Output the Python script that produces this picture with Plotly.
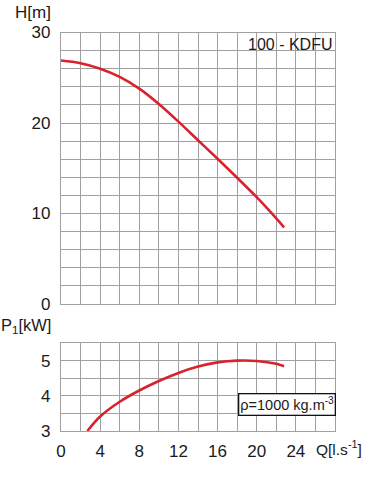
import plotly.graph_objects as go

# ---- data ----
q_h = [0, 2, 4, 6, 8, 10, 12, 14, 16, 18, 20, 22, 22.8]
h_vals = [26.9, 26.6, 26.0, 25.1, 23.8, 22.1, 20.15, 18.1, 16.05, 13.95, 11.8, 9.45, 8.45]
q_p = [2.7, 4, 6, 8, 10, 12, 14, 16, 18, 20, 22, 22.8]
p_vals = [3.0, 3.41, 3.83, 4.15, 4.42, 4.65, 4.83, 4.95, 5.0, 4.99, 4.91, 4.84]
x_ticks = [0, 4, 8, 12, 16, 20, 24]
h_ticks = [0, 10, 20, 30]
p_ticks = [3, 4, 5]

FONT = "Liberation Sans, Arial, sans-serif"
TXT = "#1a1a1a"
RED = "#d8222d"
GRID = "#a0a0a0"

W, H = 370, 479
def px(x):
    return x / W
def py(y):
    return 1 - y / H

fig = go.Figure()
fig.add_trace(go.Scatter(x=q_h, y=h_vals, mode="lines",
                         line=dict(color=RED, width=2.6, shape="spline", smoothing=1.0),
                         xaxis="x", yaxis="y", hoverinfo="skip"))
fig.add_trace(go.Scatter(x=q_p, y=p_vals, mode="lines",
                         line=dict(color=RED, width=2.6, shape="spline", smoothing=1.0),
                         xaxis="x2", yaxis="y2", hoverinfo="skip"))

xdom = [px(61), px(335)]
axis_common = dict(showgrid=True, gridcolor=GRID, gridwidth=1.4, showline=True, linecolor=GRID,
                   linewidth=1.4, mirror=True, zeroline=False, fixedrange=True, automargin=False,
                   tickfont=dict(family=FONT, size=17, color=TXT))

fig.update_layout(
    width=W, height=H, margin=dict(l=0, r=0, t=0, b=0, pad=0), autosize=False,
    paper_bgcolor="white", plot_bgcolor="white", showlegend=False,
    font=dict(family=FONT, size=17, color=TXT),
    xaxis=dict(domain=xdom, range=[0, 28], dtick=2, showticklabels=False, anchor="y", **axis_common),
    yaxis=dict(domain=[py(304), py(32.5)], range=[0, 30], tickvals=h_ticks, anchor="x",
               ticks="outside", ticklen=6, tickcolor="rgba(0,0,0,0)",
               minor=dict(dtick=2, showgrid=True, gridcolor=GRID, gridwidth=1.4),
               **axis_common),
    xaxis2=dict(domain=xdom, range=[0, 28], tickvals=x_ticks, anchor="y2",
                ticks="outside", ticklen=4, tickcolor="rgba(0,0,0,0)",
                minor=dict(dtick=2, showgrid=True, gridcolor=GRID, gridwidth=1.4),
                **axis_common),
    yaxis2=dict(domain=[py(431), py(343)], range=[3, 5.5], tickvals=p_ticks, anchor="x2",
                ticks="outside", ticklen=6, tickcolor="rgba(0,0,0,0)",
                minor=dict(dtick=0.5, showgrid=True, gridcolor=GRID, gridwidth=1.4),
                **axis_common),
)

fig.add_annotation(text="H[m]", x=px(53), y=py(12), xref="paper", yref="paper",
                   xanchor="right", yanchor="middle", showarrow=False,
                   font=dict(family=FONT, size=17, color=TXT))
fig.add_annotation(text="P<sub>1</sub>[kW]", x=px(53), y=py(326), xref="paper", yref="paper",
                   xanchor="right", yanchor="middle", showarrow=False,
                   font=dict(family=FONT, size=16.5, color=TXT))
fig.add_annotation(text="Q[l.s<sup>-1</sup>]", x=px(364), y=py(448), xref="paper", yref="paper",
                   xanchor="right", yanchor="middle", showarrow=False,
                   font=dict(family=FONT, size=15.5, color=TXT))
fig.add_annotation(text="100 - KDFU", x=px(334), y=py(44), xref="paper", yref="paper",
                   xanchor="right", yanchor="middle", showarrow=False,
                   font=dict(family=FONT, size=16, color=TXT))
fig.add_annotation(text="ρ=1000 kg.m<sup>-3</sup>", x=px(336), y=py(404), xref="paper", yref="paper",
                   xanchor="right", yanchor="middle", showarrow=False,
                   bordercolor="#111", borderwidth=1.3, borderpad=1, bgcolor="white",
                   font=dict(family=FONT, size=14.5, color=TXT))

fig.write_html("out.html", config={"displayModeBar": False},
               post_script="document.body.style.margin='0';")
